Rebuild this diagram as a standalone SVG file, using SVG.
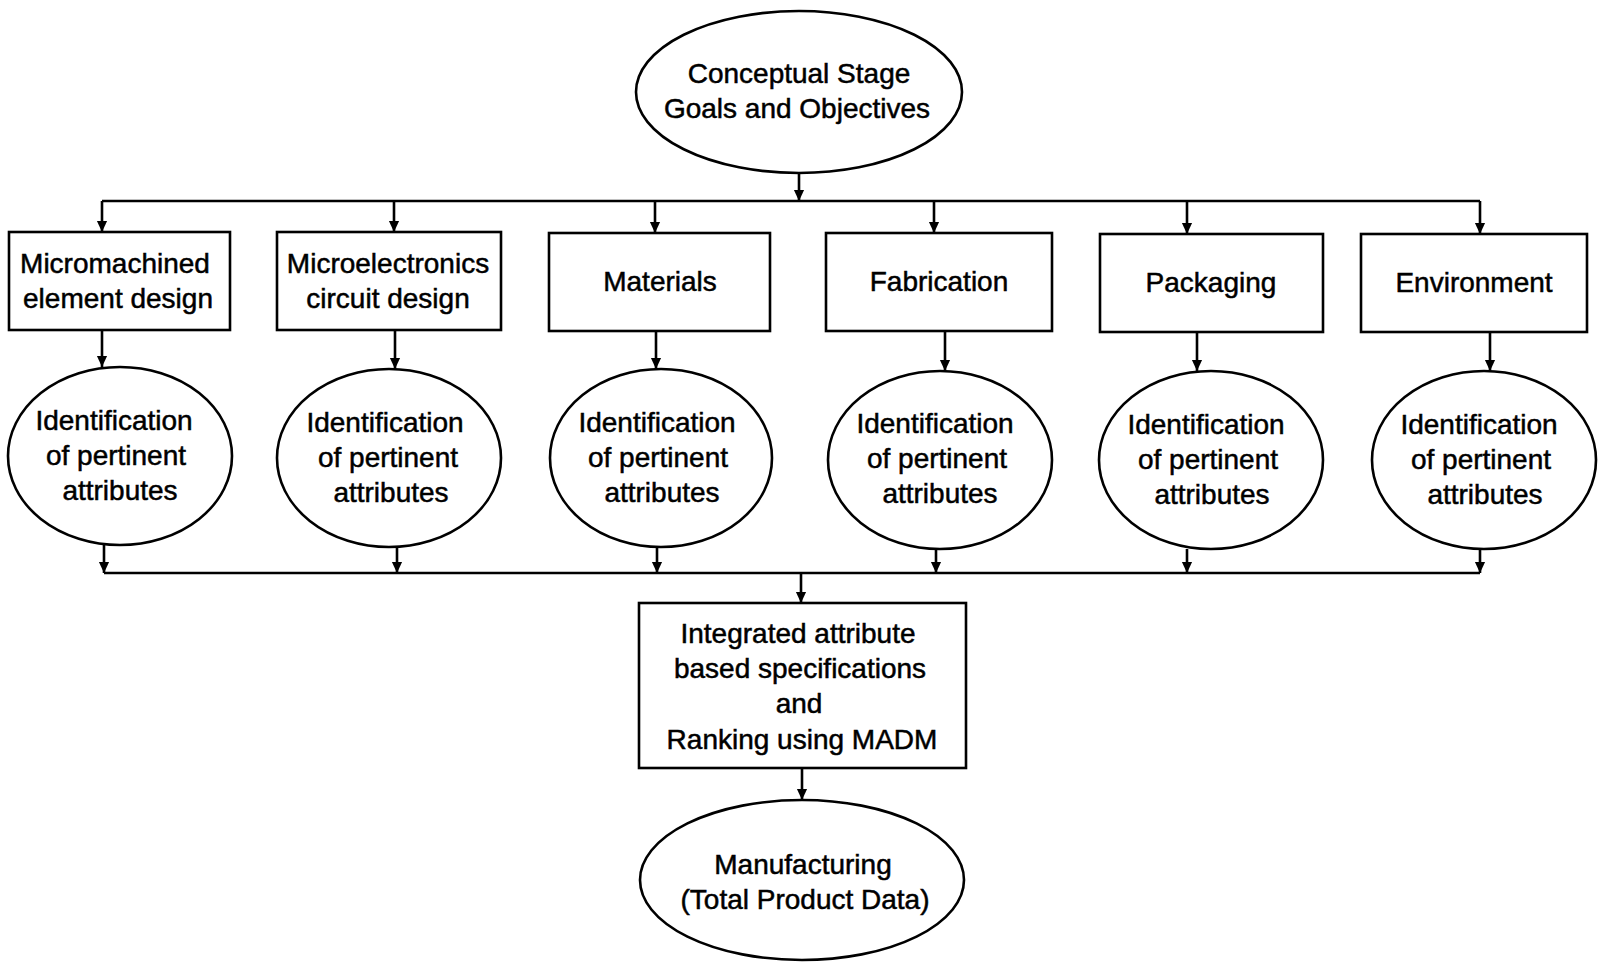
<svg xmlns="http://www.w3.org/2000/svg" width="1598" height="965" viewBox="0 0 1598 965">
  <style>
    .shape { fill: #fff; stroke: #000; stroke-width: 2.6; }
    .wire { fill: none; stroke: #000; stroke-width: 2.6; }
    .lbl { font-family: "Liberation Sans", Arial, sans-serif; font-size: 28px; fill: #000; stroke: #000; stroke-width: 0.5; text-anchor: middle; dominant-baseline: central; }
  </style>
  <defs>
    <marker id="arrow" markerUnits="userSpaceOnUse" markerWidth="12" markerHeight="14" refX="6" refY="13" orient="auto-start-reverse" viewBox="0 0 12 14">
      <path d="M0,0 L12,0 L6,13 Z" fill="#000" transform="rotate(0)"/>
    </marker>
    <marker id="tip" markerUnits="userSpaceOnUse" markerWidth="12" markerHeight="14" refX="13" refY="6" orient="auto" viewBox="0 0 14 12">
      <path d="M0,0 L13,6 L0,12 Z" fill="#000"/>
    </marker>
  </defs>

  <!-- connectors -->
  <g id="connectors">
    <!-- top fan-out -->
    <line class="wire" x1="799" y1="173" x2="799" y2="201" marker-end="url(#tip)"/>
    <line class="wire" x1="102" y1="201" x2="1480" y2="201"/>
    <line class="wire" x1="102" y1="201" x2="102" y2="232" marker-end="url(#tip)"/>
    <line class="wire" x1="394" y1="201" x2="394" y2="232" marker-end="url(#tip)"/>
    <line class="wire" x1="655" y1="201" x2="655" y2="233" marker-end="url(#tip)"/>
    <line class="wire" x1="934" y1="201" x2="934" y2="233" marker-end="url(#tip)"/>
    <line class="wire" x1="1187" y1="201" x2="1187" y2="234" marker-end="url(#tip)"/>
    <line class="wire" x1="1480" y1="201" x2="1480" y2="234" marker-end="url(#tip)"/>
    <!-- boxes to attribute ellipses -->
    <line class="wire" x1="102" y1="330" x2="102" y2="367" marker-end="url(#tip)"/>
    <line class="wire" x1="395" y1="330" x2="395" y2="369" marker-end="url(#tip)"/>
    <line class="wire" x1="656" y1="331" x2="656" y2="369" marker-end="url(#tip)"/>
    <line class="wire" x1="945" y1="331" x2="945" y2="371" marker-end="url(#tip)"/>
    <line class="wire" x1="1197" y1="332" x2="1197" y2="371" marker-end="url(#tip)"/>
    <line class="wire" x1="1490" y1="332" x2="1490" y2="371" marker-end="url(#tip)"/>
    <!-- attribute ellipses to collector -->
    <line class="wire" x1="104" y1="545" x2="104" y2="573" marker-end="url(#tip)"/>
    <line class="wire" x1="397" y1="547" x2="397" y2="573" marker-end="url(#tip)"/>
    <line class="wire" x1="657" y1="547" x2="657" y2="573" marker-end="url(#tip)"/>
    <line class="wire" x1="936" y1="549" x2="936" y2="573" marker-end="url(#tip)"/>
    <line class="wire" x1="1187" y1="549" x2="1187" y2="573" marker-end="url(#tip)"/>
    <line class="wire" x1="1480" y1="549" x2="1480" y2="573" marker-end="url(#tip)"/>
    <line class="wire" x1="104" y1="573" x2="1480" y2="573"/>
    <!-- collector to integration and manufacturing -->
    <line class="wire" x1="801" y1="573" x2="801" y2="603" marker-end="url(#tip)"/>
    <line class="wire" x1="802" y1="768" x2="802" y2="800" marker-end="url(#tip)"/>
  </g>

  <g id="goals">
    <ellipse class="shape" cx="799" cy="92" rx="163" ry="81"/>
    <text class="lbl" x="799" y="73">Conceptual Stage</text>
    <text class="lbl" x="797" y="108">Goals and Objectives</text>
  </g>

  <g id="micromachined">
    <rect class="shape" x="9" y="232" width="221" height="98"/>
    <text class="lbl" x="115" y="263">Micromachined</text>
    <text class="lbl" x="118" y="298">element design</text>
  </g>
  <g id="microelectronics">
    <rect class="shape" x="277" y="232" width="224" height="98"/>
    <text class="lbl" x="388" y="263">Microelectronics</text>
    <text class="lbl" x="388" y="298">circuit design</text>
  </g>
  <g id="materials">
    <rect class="shape" x="549" y="233" width="221" height="98"/>
    <text class="lbl" x="660" y="281">Materials</text>
  </g>
  <g id="fabrication">
    <rect class="shape" x="826" y="233" width="226" height="98"/>
    <text class="lbl" x="939" y="281">Fabrication</text>
  </g>
  <g id="packaging">
    <rect class="shape" x="1100" y="234" width="223" height="98"/>
    <text class="lbl" x="1211" y="282">Packaging</text>
  </g>
  <g id="environment">
    <rect class="shape" x="1361" y="234" width="226" height="98"/>
    <text class="lbl" x="1474" y="282">Environment</text>
  </g>

  <g id="attr1">
    <ellipse class="shape" cx="120" cy="456" rx="112" ry="89"/>
    <text class="lbl" x="114" y="420">Identification</text>
    <text class="lbl" x="116" y="455">of pertinent</text>
    <text class="lbl" x="120" y="490">attributes</text>
  </g>
  <g id="attr2">
    <ellipse class="shape" cx="389" cy="458" rx="112" ry="89"/>
    <text class="lbl" x="385" y="422">Identification</text>
    <text class="lbl" x="388" y="457">of pertinent</text>
    <text class="lbl" x="391" y="492">attributes</text>
  </g>
  <g id="attr3">
    <ellipse class="shape" cx="661" cy="458" rx="111" ry="89"/>
    <text class="lbl" x="657" y="422">Identification</text>
    <text class="lbl" x="658" y="457">of pertinent</text>
    <text class="lbl" x="662" y="492">attributes</text>
  </g>
  <g id="attr4">
    <ellipse class="shape" cx="940" cy="460" rx="112" ry="89"/>
    <text class="lbl" x="935" y="423">Identification</text>
    <text class="lbl" x="937" y="458">of pertinent</text>
    <text class="lbl" x="940" y="493">attributes</text>
  </g>
  <g id="attr5">
    <ellipse class="shape" cx="1211" cy="460" rx="112" ry="89"/>
    <text class="lbl" x="1206" y="424">Identification</text>
    <text class="lbl" x="1208" y="459">of pertinent</text>
    <text class="lbl" x="1212" y="494">attributes</text>
  </g>
  <g id="attr6">
    <ellipse class="shape" cx="1484" cy="460" rx="112" ry="89"/>
    <text class="lbl" x="1479" y="424">Identification</text>
    <text class="lbl" x="1481" y="459">of pertinent</text>
    <text class="lbl" x="1485" y="494">attributes</text>
  </g>

  <g id="integration">
    <rect class="shape" x="639" y="603" width="327" height="165"/>
    <text class="lbl" x="798" y="633">Integrated attribute</text>
    <text class="lbl" x="800" y="668">based specifications</text>
    <text class="lbl" x="799" y="703">and</text>
    <text class="lbl" x="802" y="739">Ranking using MADM</text>
  </g>

  <g id="manufacturing">
    <ellipse class="shape" cx="802" cy="880" rx="162" ry="80"/>
    <text class="lbl" x="803" y="864">Manufacturing</text>
    <text class="lbl" x="805" y="899">(Total Product Data)</text>
  </g>
</svg>
